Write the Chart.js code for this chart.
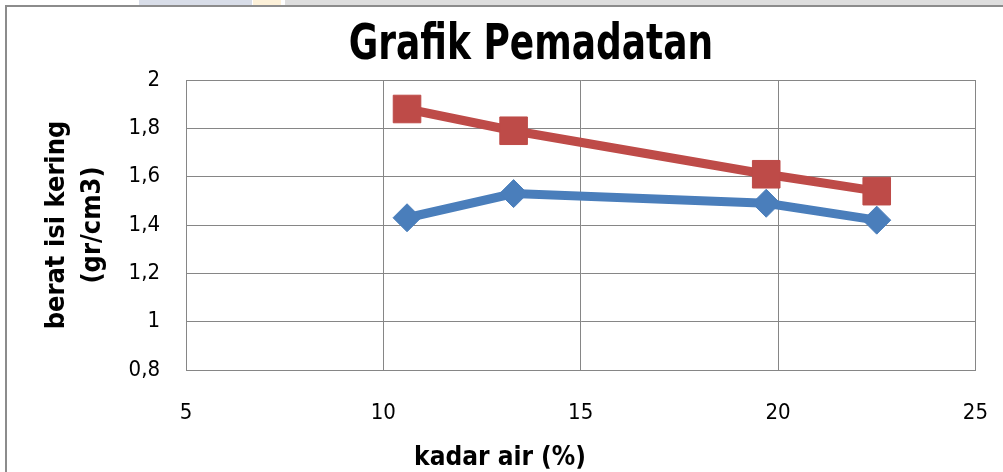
<!DOCTYPE html>
<html>
<head>
<meta charset="utf-8">
<script src="https://cdn.jsdelivr.net/npm/chart.js@4"></script>
<style>
  html, body { margin: 0; padding: 0; background: #fff; }
  body { width: 1003px; height: 472px; overflow: hidden; position: relative; }
  .strip { position: absolute; top: 0; height: 5px; }
  #frame { position: absolute; left: 5px; top: 5px; width: 1100px; height: 500px;
           border-left: 2px solid #8c8c8c; border-top: 2px solid #8c8c8c; }
  #wrap { position: absolute; left: 0; top: 0; width: 1018px; height: 472px; }
</style>
</head>
<body>
<div class="strip" style="left:139px;width:113px;background:#d8dde8"></div>
<div class="strip" style="left:253px;width:28px;background:#fdf1d9"></div>
<div class="strip" style="left:285px;width:718px;background:#dedede"></div>
<div id="frame"></div>
<!-- canvas is a bit wider than the window: the last x label padding pushes the plot in otherwise -->
<div id="wrap"><canvas id="grafik" width="1018" height="472"></canvas></div>
<script>
const kadarAir = [10.6, 13.3, 19.7, 22.5];
const beratBiru = [1.43, 1.53, 1.49, 1.42];
const beratMerah = [1.88, 1.79, 1.61, 1.54];

const FONT = "'Liberation Sans Narrow', 'Arial Narrow', 'DejaVu Sans Condensed', sans-serif";

// titles drawn by hand: the original uses a narrow font and they are not centred on the plot
const titlesPlugin = {
    id: 'titles',
    afterDraw(chart) {
        const c = chart.ctx;
        c.save();
        c.fillStyle = '#000';
        c.textAlign = 'center';

        c.save();
        c.translate(531, 59);
        c.scale(0.8, 1);
        c.font = `bold 50px ${FONT}`;
        c.textBaseline = 'alphabetic';
        c.fillText('Grafik Pemadatan', 0, 0);
        c.restore();

        c.font = `bold 26px ${FONT}`;
        c.textBaseline = 'middle';
        c.fillText('kadar air (%)', 500, 458);
        c.restore();
    }
};

const ctx = document.getElementById('grafik').getContext('2d');
new Chart(ctx, {
    type: 'line',
    data: {
        datasets: [{
            data: kadarAir.map((x, i) => ({ x, y: beratBiru[i] })),
            borderColor: '#4a7ebb',
            backgroundColor: '#4a7ebb',
            borderWidth: 9,
            pointStyle: 'rectRot',
            pointRadius: 14,
            pointBorderWidth: 1
        }, {
            data: kadarAir.map((x, i) => ({ x, y: beratMerah[i] })),
            borderColor: '#be4b48',
            backgroundColor: '#be4b48',
            borderWidth: 9,
            pointStyle: 'rect',
            pointRadius: 19.5,
            pointBorderWidth: 1
        }]
    },
    options: {
        responsive: false,
        animation: false,
        layout: { autoPadding: false, padding: { left: 0, right: 10, top: 80, bottom: 0 } },
        plugins: {
            legend: { display: false },
            tooltip: { enabled: false },
            title: { display: false }
        },
        scales: {
            x: {
                type: 'linear',
                min: 5,
                max: 25,
                ticks: { stepSize: 5, color: '#000', padding: 30, font: { family: FONT, size: 22 } },
                grid: { color: '#868686', drawTicks: false },
                border: { color: '#868686' },
                afterFit: (scale) => { scale.height = 102; }
            },
            y: {
                min: 0.8,
                max: 2,
                ticks: {
                    stepSize: 0.2,
                    color: '#000',
                    padding: 26,
                    font: { family: FONT, size: 22 },
                    callback: (v) => String(Number(v.toFixed(1))).replace('.', ',')
                },
                grid: { color: '#868686', drawTicks: false },
                border: { color: '#868686' },
                title: {
                    display: true,
                    text: ['berat isi kering', '(gr/cm3)'],
                    color: '#000',
                    font: { family: FONT, size: 27, weight: 'bold', lineHeight: '36px' },
                    padding: { top: 39, bottom: 0 }
                },
                afterFit: (scale) => { scale.width = 186; }
            }
        }
    },
    plugins: [titlesPlugin]
});
</script>
</body>
</html>
